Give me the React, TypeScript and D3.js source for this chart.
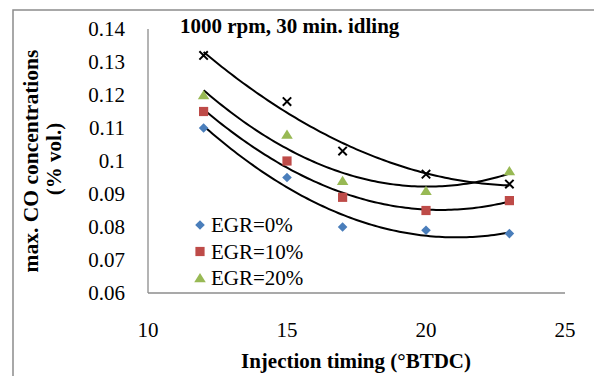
import React from "react";
import * as d3 from "d3";

const timings = [12, 15, 17, 20, 23];
const egr0 = [0.11, 0.095, 0.08, 0.079, 0.078];
const egr10 = [0.115, 0.1, 0.089, 0.085, 0.088];
const egr20 = [0.12, 0.108, 0.094, 0.091, 0.097];
const egrX = [0.132, 0.118, 0.103, 0.096, 0.093];
const xTicks = [10, 15, 20, 25];
const yTicks = [0.06, 0.07, 0.08, 0.09, 0.1, 0.11, 0.12, 0.13, 0.14];
const legendLabels = ["EGR=0%", "EGR=10%", "EGR=20%"];

const W = 594;
const H = 376;
const FONT = "'Liberation Serif', 'Times New Roman', serif";

// least-squares quadratic fit, the order-2 polynomial trend line
function quadFit(xs: number[], ys: number[]) {
  const n = xs.length;
  let s1 = 0, s2 = 0, s3 = 0, s4 = 0, t0 = 0, t1 = 0, t2 = 0;
  for (let i = 0; i < n; i++) {
    const x = xs[i], y = ys[i];
    s1 += x; s2 += x * x; s3 += x * x * x; s4 += x * x * x * x;
    t0 += y; t1 += x * y; t2 += x * x * y;
  }
  const M = [
    [n, s1, s2, t0],
    [s1, s2, s3, t1],
    [s2, s3, s4, t2],
  ];
  for (let c = 0; c < 3; c++) {
    for (let r = c + 1; r < 3; r++) {
      const f = M[r][c] / M[c][c];
      for (let k = c; k < 4; k++) M[r][k] -= f * M[c][k];
    }
  }
  const b = [0, 0, 0];
  for (let r = 2; r >= 0; r--) {
    let s = M[r][3];
    for (let k = r + 1; k < 3; k++) s -= M[r][k] * b[k];
    b[r] = s / M[r][r];
  }
  return (x: number) => b[0] + b[1] * x + b[2] * x * x;
}

// marker shapes (half-width h)
const diamond = (h: number) => `M0,${-h}L${h},0L0,${h}L${-h},0Z`;
const square = (h: number) => `M${-h},${-h}H${h}V${h}H${-h}Z`;
const triangle = (h: number) => `M0,${-h}L${h * 1.15},${h * 0.85}L${-h * 1.15},${h * 0.85}Z`;
const cross = (h: number) => `M${-h},${-h}L${h},${h}M${h},${-h}L${-h},${h}`;

export default function App() {
  const x = d3.scaleLinear().domain([10, 25]).range([148, 565]);
  const y = d3.scaleLinear().domain([0.06, 0.14]).range([293, 29]);

  const series = [
    { values: egr0, d: diamond(4.8), color: "#4a7ebb", stroke: false },
    { values: egr10, d: square(4.6), color: "#be4b48", stroke: false },
    { values: egr20, d: triangle(5), color: "#98b954", stroke: false },
    { values: egrX, d: cross(4.2), color: "#000000", stroke: true },
  ];

  const [x0, x1] = d3.extent(timings) as [number, number];
  const samples = d3.range(0, 101).map((i) => x0 + ((x1 - x0) * i) / 100);
  const line = d3
    .line<[number, number]>()
    .x((d) => x(d[0]))
    .y((d) => y(d[1]));

  return (
    <svg
      width={W}
      height={H}
      style={{ position: "absolute", left: 0, top: 0, background: "#fff" }}
      fontFamily={FONT}
    >
      <rect x={0} y={0} width={W} height={H} fill="#fff" />
      <rect x={13} y={10} width={W + 20} height={H + 20} fill="none" stroke="#8c8c8c" strokeWidth={1.5} />

      {/* axes */}
      <line x1={x(10)} x2={x(10)} y1={y(0.14)} y2={y(0.06)} stroke="#8c8c8c" strokeWidth={1.3} />
      <line x1={x(10)} x2={x(25)} y1={y(0.06)} y2={y(0.06)} stroke="#8c8c8c" strokeWidth={1.3} />

      {yTicks.map((t) => (
        <text key={t} x={125} y={y(t)} dy="0.35em" textAnchor="end" fontSize={21}>
          {String(+t.toFixed(2))}
        </text>
      ))}
      {xTicks.map((t) => (
        <text key={t} x={x(t)} y={337} textAnchor="middle" fontSize={21}>
          {t}
        </text>
      ))}

      {/* trend lines */}
      {series.map((s, i) => {
        const f = quadFit(timings, s.values);
        const pts = samples.map((v) => [v, f(v)] as [number, number]);
        return <path key={"t" + i} d={line(pts) || ""} fill="none" stroke="#000" strokeWidth={2} />;
      })}

      {/* markers */}
      {series.map((s, i) =>
        s.values.map((v, j) => (
          <path
            key={i + "-" + j}
            d={s.d}
            transform={`translate(${x(timings[j])},${y(v)})`}
            fill={s.stroke ? "none" : s.color}
            stroke={s.stroke ? s.color : "none"}
            strokeWidth={s.stroke ? 2 : 0}
          />
        ))
      )}

      {/* legend */}
      {legendLabels.map((label, i) => {
        const s = series[i];
        const ly = 225 + i * 26.5;
        return (
          <g key={label}>
            <path d={s.d} transform={`translate(200,${ly})`} fill={s.color} />
            <text x={211} y={ly} dy="0.35em" fontSize={21}>
              {label}
            </text>
          </g>
        );
      })}

      {/* titles */}
      <text x={180} y={33} fontSize={21} fontWeight="bold">
        1000 rpm, 30 min. idling
      </text>
      <text x={356} y={368} textAnchor="middle" fontSize={21} fontWeight="bold">
        Injection timing (°BTDC)
      </text>
      <text transform="translate(38,161) rotate(-90)" textAnchor="middle" fontSize={21.5} fontWeight="bold">
        max. CO concentrations
      </text>
      <text transform="translate(61,159) rotate(-90)" textAnchor="middle" fontSize={21} fontWeight="bold">
        (% vol.)
      </text>
    </svg>
  );
}
